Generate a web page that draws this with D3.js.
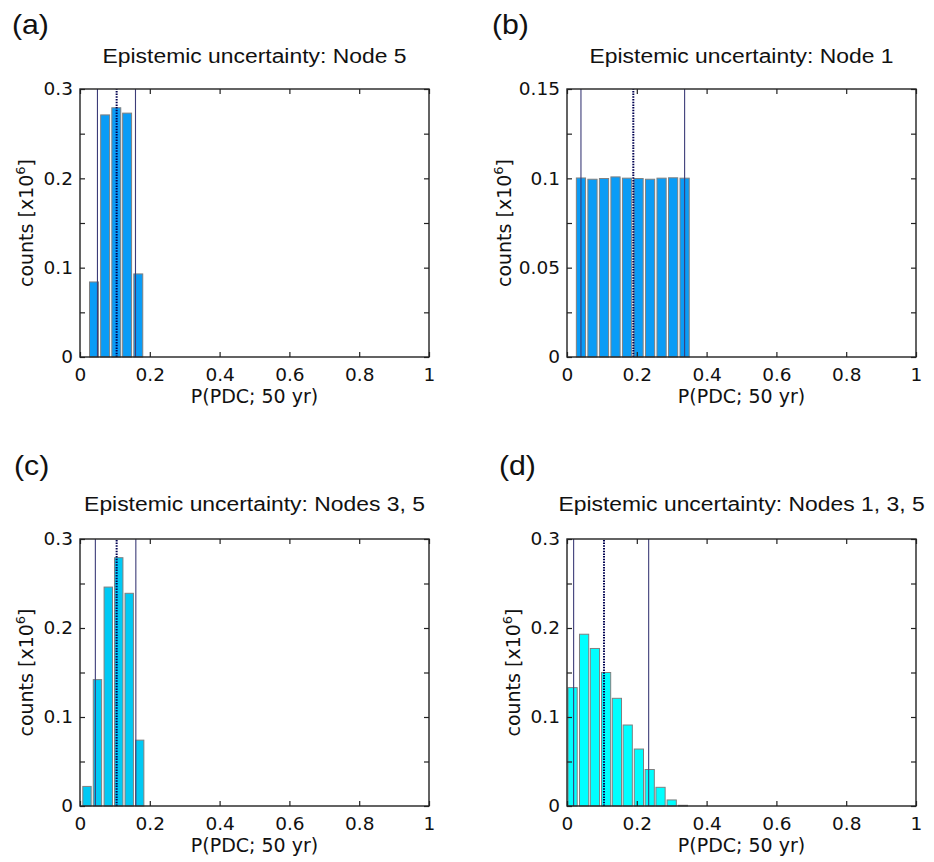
<!DOCTYPE html>
<html>
<head>
<meta charset="utf-8">
<script src="https://cdn.jsdelivr.net/npm/d3@7"></script>
<style>
  body { margin: 0; background: #fff; }
  svg { display: block; }
</style>
</head>
<body>
<div id="chart"></div>
<script>
// bin centres and counts (x10^6)
var centersA = [0.040, 0.072, 0.104, 0.135, 0.167];
var countsA  = [0.084, 0.271, 0.279, 0.273, 0.093];
var linesA   = [0.050, 0.105, 0.159];

var centersB = [0.040, 0.073, 0.106, 0.139, 0.172, 0.205, 0.238, 0.271, 0.304, 0.337];
var countsB  = [0.1002, 0.0995, 0.0999, 0.1008, 0.1001, 0.0999, 0.0995, 0.1001, 0.1003, 0.1001];
var linesB   = [0.040, 0.190, 0.337];

var centersC = [0.020, 0.050, 0.081, 0.111, 0.141, 0.171];
var countsC  = [0.022, 0.142, 0.246, 0.279, 0.239, 0.074];
var linesC   = [0.044, 0.105, 0.160];

var centersD = [0.016, 0.049, 0.080, 0.112, 0.143, 0.174, 0.206, 0.237, 0.268, 0.300, 0.332];
var countsD  = [0.133, 0.193, 0.177, 0.150, 0.121, 0.091, 0.064, 0.041, 0.021, 0.0068, 0.0008];
var linesD   = [0.019, 0.106, 0.234];

var titles = ['Epistemic uncertainty: Node 5', 'Epistemic uncertainty: Node 1',
              'Epistemic uncertainty: Nodes 3, 5', 'Epistemic uncertainty: Nodes 1, 3, 5'];
var letters = ['(a)', '(b)', '(c)', '(d)'];

var xTicks = [0, 0.2, 0.4, 0.6, 0.8, 1];
var xTickLabels = ['0', '0.2', '0.4', '0.6', '0.8', '1'];
var yTicks03 = [0, 0.05, 0.1, 0.15, 0.2, 0.25, 0.3];
var yLabels03 = ['0', '', '0.1', '', '0.2', '', '0.3'];
var yTicks015 = [0, 0.025, 0.05, 0.075, 0.1, 0.125, 0.15];
var yLabels015 = ['0', '', '0.05', '', '0.1', '', '0.15'];

var W = 934, H = 862;
var svg = d3.select('#chart').append('svg').attr('width', W).attr('height', H);

var panels = [
  {left: 80,  top: 89,  w: 349, h: 268, ymax: 0.3,  yt: yTicks03,  yl: yLabels03,  c: centersA, v: countsA, lines: linesA, fill: '#0a9cf6', letterX: 12,  letterY: 34,  titleY: 63,  ylabX: 33},
  {left: 567, top: 89,  w: 349, h: 268, ymax: 0.15, yt: yTicks015, yl: yLabels015, c: centersB, v: countsB, lines: linesB, fill: '#0a9cf6', letterX: 492, letterY: 34,  titleY: 63,  ylabX: 511},
  {left: 80,  top: 539, w: 349, h: 267, ymax: 0.3,  yt: yTicks03,  yl: yLabels03,  c: centersC, v: countsC, lines: linesC, fill: '#00c9f4', letterX: 14,  letterY: 475, titleY: 511, ylabX: 33},
  {left: 567, top: 539, w: 349, h: 267, ymax: 0.3,  yt: yTicks03,  yl: yLabels03,  c: centersD, v: countsD, lines: linesD, fill: '#00ffff', letterX: 499, letterY: 475, titleY: 511, ylabX: 520}
];

panels.forEach(function(p, i) {
  var x = d3.scaleLinear().domain([0, 1]).range([0, p.w]);
  var y = d3.scaleLinear().domain([0, p.ymax]).range([p.h, 0]);
  var g = svg.append('g').attr('transform', 'translate(' + p.left + ',' + p.top + ')');

  // bars (MATLAB hist style, 0.8 of the bin width)
  var step = p.c[1] - p.c[0];
  var bw = x(step * 0.8) - x(0);
  g.selectAll('rect.bar')
    .data(p.c)
    .enter().append('rect')
    .attr('class', 'bar')
    .attr('x', function(d) { return x(d) - bw / 2; })
    .attr('y', function(d, j) { return y(p.v[j]); })
    .attr('width', bw)
    .attr('height', function(d, j) { return y(0) - y(p.v[j]); })
    .attr('fill', p.fill)
    .attr('stroke', '#808080')
    .attr('stroke-width', 1);

  // percentile lines: outer ones solid, median dotted
  g.selectAll('line.pct')
    .data(p.lines)
    .enter().append('line')
    .attr('class', 'pct')
    .attr('x1', function(d) { return x(d); })
    .attr('x2', function(d) { return x(d); })
    .attr('y1', y(0))
    .attr('y2', y(p.ymax))
    .attr('stroke', function(d, j) { return j == 1 ? '#000050' : '#3c3c78'; })
    .attr('stroke-width', function(d, j) { return j == 1 ? 2 : 1.1; })
    .attr('stroke-dasharray', function(d, j) { return j == 1 ? '1.5,1.2' : null; });

  // axes with inward ticks on all four sides
  var xb = d3.axisBottom(x).tickValues(xTicks).tickSizeInner(-5).tickSizeOuter(0).tickPadding(11)
    .tickFormat(function(d, j) { return xTickLabels[j]; });
  var xt = d3.axisTop(x).tickValues(xTicks).tickSizeInner(-5).tickSizeOuter(0).tickFormat('');
  var yl = d3.axisLeft(y).tickValues(p.yt).tickSizeInner(-5).tickSizeOuter(0).tickPadding(7)
    .tickFormat(function(d, j) { return p.yl[j]; });
  var yr = d3.axisRight(y).tickValues(p.yt).tickSizeInner(-5).tickSizeOuter(0).tickFormat('');

  [g.append('g').attr('transform', 'translate(0,' + p.h + ')').call(xb),
   g.append('g').call(xt),
   g.append('g').call(yl),
   g.append('g').attr('transform', 'translate(' + p.w + ',0)').call(yr)
  ].forEach(function(a) {
    a.select('.domain').remove();
    a.selectAll('line').attr('stroke', '#222').attr('stroke-width', 1.2);
    a.selectAll('text').attr('font-family', 'DejaVu Sans').attr('font-size', 18.5).attr('fill', '#111');
  });

  g.append('rect')
    .attr('width', p.w).attr('height', p.h)
    .attr('fill', 'none').attr('stroke', '#222').attr('stroke-width', 1.4);

  // x label
  g.append('text')
    .attr('x', p.w / 2).attr('y', p.h + 46)
    .attr('text-anchor', 'middle')
    .attr('font-family', 'DejaVu Sans').attr('font-size', 19).attr('fill', '#111')
    .text('P(PDC; 50 yr)');

  // y label with superscript
  var yt = svg.append('text')
    .attr('transform', 'translate(' + p.ylabX + ',' + (p.top + p.h / 2) + ') rotate(-90)')
    .attr('text-anchor', 'middle')
    .attr('font-family', 'DejaVu Sans').attr('font-size', 19).attr('fill', '#111');
  yt.append('tspan').text('counts [x10');
  yt.append('tspan').attr('font-size', 13).attr('dy', -8).text('6');
  yt.append('tspan').attr('dy', 8).text(']');

  // title
  svg.append('text')
    .attr('transform', 'translate(' + (p.left + p.w / 2) + ',' + p.titleY + ') scale(1.09,1)')
    .attr('text-anchor', 'middle')
    .attr('font-family', 'Liberation Sans').attr('font-size', 21).attr('fill', '#111')
    .text(titles[i]);

  // panel letter
  svg.append('text')
    .attr('transform', 'translate(' + p.letterX + ',' + p.letterY + ') scale(1.08,1)')
    .attr('font-family', 'Liberation Sans').attr('font-size', 28).attr('fill', '#111')
    .text(letters[i]);
});
</script>
</body>
</html>
